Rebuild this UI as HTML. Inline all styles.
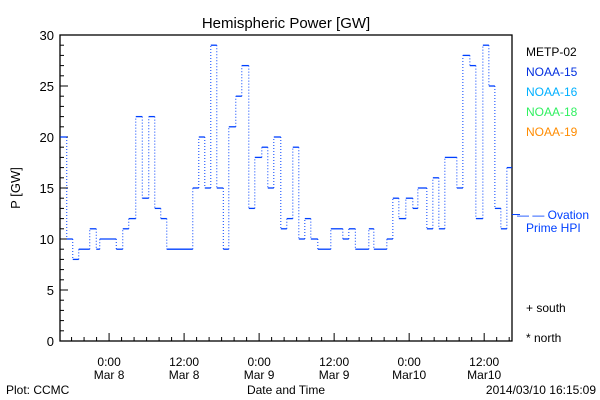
<!DOCTYPE html>
<html><head><meta charset="utf-8"><style>
body{margin:0;background:#fff;}
svg{display:block;font-family:"Liberation Sans",sans-serif;}
</style></head><body>
<svg id="chart" width="600" height="400" viewBox="0 0 600 400" xmlns="http://www.w3.org/2000/svg">
<rect width="600" height="400" fill="#fff"/>
<text x="286" y="28" font-size="15" text-anchor="middle" fill="#000">Hemispheric Power [GW]</text>
<g id="axes"></g>
<g id="series"></g>
<text transform="translate(20,188) rotate(-90)" font-size="13" text-anchor="middle">P [GW]</text>
<text x="286" y="394" font-size="12" text-anchor="middle">Date and Time</text>
<text x="6" y="394" font-size="12">Plot: CCMC</text>
<text x="596" y="394" font-size="12" text-anchor="end">2014/03/10 16:15:09</text>
<g font-size="12">
<text x="526" y="56" fill="#000">METP-02</text>
<text x="526" y="76" fill="#0030e0">NOAA-15</text>
<text x="526" y="96" fill="#00b0ff">NOAA-16</text>
<text x="526" y="116" fill="#30f060">NOAA-18</text>
<text x="526" y="136" fill="#ff8c00">NOAA-19</text>
<text x="517" y="219" fill="#0040ff">— — Ovation</text>
<text x="526" y="232" fill="#0040ff">Prime HPI</text>
<text x="526" y="312" fill="#000">+ south</text>
<text x="526" y="342" fill="#000">* north</text>
</g>
</svg>
<script>
const stepTimes=[-7.81,-6.77,-5.81,-4.85,-3.09,-2.05,-1.49,1.15,2.19,3.15,4.27,5.31,6.35,7.31,8.27,9.23,13.39,14.35,15.31,16.27,17.23,18.27,19.15,20.27,21.23,22.35,23.31,24.43,25.39,26.35,27.47,28.43,29.39,30.35,31.31,32.27,33.39,35.47,37.39,38.35,39.39,41.55,42.35,44.43,45.39,46.35,47.47,48.59,49.39,50.83,51.79,52.75,53.71,55.63,56.59,57.71,58.67,59.79,60.75,61.71,62.67,63.63];
const stepValues=[20,10,8,9,11,9,10,9,11,12,22,14,22,13,12,9,15,20,15,29,15,9,21,24,27,13,18,19,15,20,11,12,19,10,12,10,9,11,10,11,9,11,9,10,14,12,14,13,15,11,16,11,18,15,28,27,12,29,25,13,11,17];
const endTime=64.43;
const yTicks=[0,5,10,15,20,25,30];
const xTickHours=[0,12,24,36,48,60];
const xTickLabels=[["0:00","Mar 8"],["12:00","Mar 8"],["0:00","Mar 9"],["12:00","Mar 9"],["0:00","Mar10"],["12:00","Mar10"]];
const ovationValue=12.4;

const L=60,R=512,T=35,B=341,t0=-7.85,t1=64.45;
const X=t=>L+(t-t0)/(t1-t0)*(R-L);
const Y=v=>B-v/30*(B-T);
const NS="http://www.w3.org/2000/svg";
function mk(tag,attrs,parent){const e=document.createElementNS(NS,tag);for(const k in attrs)e.setAttribute(k,attrs[k]);parent.appendChild(e);return e;}
const ax=document.getElementById('axes');
const frame=mk('rect',{x:L,y:T,width:R-L,height:B-T,fill:'none',stroke:'#000','stroke-width':1.3},ax);


for(let v=0;v<=30;v++){
  const len=v%5===0?8:4;
  const tk=mk('line',{x1:L,x2:L+len,y1:Y(v),y2:Y(v),stroke:'#000'},ax);
  
  
}
yTicks.forEach(v=>{
  const t=mk('text',{x:L-6,y:Y(v)+5,'font-size':13,'text-anchor':'end'},ax);t.textContent=v;
  
  
});
for(let h=-6;h<=64;h+=2){
  const major=h%12===0;
  const tk=mk('line',{x1:X(h),x2:X(h),y1:B,y2:B-(major?8:4),stroke:'#000'},ax);
  
  
}
xTickHours.forEach((h,i)=>{
  const a=mk('text',{x:X(h),y:366,'font-size':12,'text-anchor':'middle'},ax);a.textContent=xTickLabels[i][0];
  
  
  const b=mk('text',{x:X(h),y:379,'font-size':12,'text-anchor':'middle'},ax);b.textContent=xTickLabels[i][1];
  
  
});
const ov=mk('line',{x1:R,x2:R+8,y1:Y(ovationValue),y2:Y(ovationValue),stroke:'#0040ff'},ax);


const sg=document.getElementById('series');
for(let i=0;i<stepValues.length;i++){
  const xa=X(stepTimes[i]),xb=X(i+1<stepTimes.length?stepTimes[i+1]:endTime);
  const h=mk('line',{x1:xa,x2:xb,y1:Y(stepValues[i]),y2:Y(stepValues[i]),stroke:'#0040ff','stroke-width':1.3},sg);
  
  
  if(i+1<stepValues.length){
    const v=mk('line',{x1:xb,x2:xb,y1:Y(stepValues[i]),y2:Y(stepValues[i+1]),stroke:'#0040ff','stroke-width':1,'stroke-dasharray':'1 2'},sg);
    
    
  }
}
</script>
</body></html>
